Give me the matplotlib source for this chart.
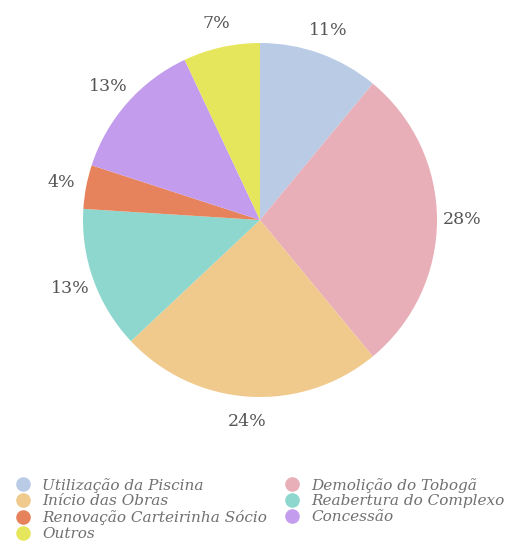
import matplotlib
matplotlib.use("Agg")
import matplotlib.pyplot as plt
from matplotlib.lines import Line2D

categories = ["Utilização da Piscina", "Demolição do Tobogã", "Início das Obras",
              "Reabertura do Complexo", "Renovação Carteirinha Sócio", "Concessão", "Outros"]
shares = [11, 28, 24, 13, 4, 13, 7]
colors = ["#bacbe6", "#e8afb8", "#f0ca8c", "#8ed7ce", "#e7835c", "#c39cee", "#e6e65c"]

legend_order = [0, 2, 4, 6, 1, 3, 5]

W, H = 505, 548
fig = plt.figure(figsize=(W / 100, H / 100), dpi=100)
fig.patch.set_facecolor("white")

cx, cy, r = 260, 220, 177
ax = fig.add_axes([(cx - r) / W, (H - cy - r) / H, 2 * r / W, 2 * r / H])
wedges, texts = ax.pie(shares, colors=colors, startangle=90, counterclock=False,
                       labels=[f"{v}%" for v in shares], labeldistance=1.14,
                       wedgeprops=dict(linewidth=0))
for t in texts:
    t.set_fontfamily("DejaVu Serif")
    t.set_fontsize(12.5)
    t.set_color("#555555")
    t.set_horizontalalignment("center")
ax.set_xlim(-1, 1)
ax.set_ylim(-1, 1)
ax.set_aspect("equal")
ax.axis("off")

handles = [Line2D([], [], marker="o", linestyle="none", markersize=10.5,
                  markerfacecolor=colors[i], markeredgecolor="none") for i in legend_order]
labels = [categories[i] for i in legend_order]
leg = fig.legend(handles, labels, ncol=2, loc="upper left",
                 bbox_to_anchor=(8 / W, 1 - 470 / H), frameon=False,
                 prop=dict(family="DejaVu Serif", style="italic", size=11),
                 handletextpad=0.75, columnspacing=1.15, labelspacing=0.12,
                 handlelength=1.0, borderpad=0)
for t in leg.get_texts():
    t.set_color("#707070")

fig.savefig("out.png", dpi=100, facecolor="white")
